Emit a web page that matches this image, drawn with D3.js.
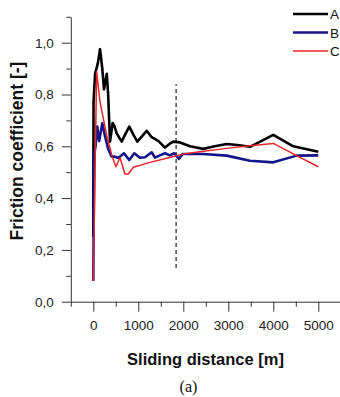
<!DOCTYPE html>
<html>
<head>
<meta charset="utf-8">
<script src="https://cdn.jsdelivr.net/npm/d3@7"></script>
<style>
  html, body { margin: 0; padding: 0; background: #fff; }
  svg { display: block; }
</style>
</head>
<body>
<div id="chart"></div>
<script>
// friction coefficient vs sliding distance, three samples
const seriesNames = ['A', 'B', 'C'];
const seriesColors = ['#000000', '#14148a', '#e8262a'];
const seriesWidths = [2.6, 2.6, 1.5];

const distA = [0, 5, 40, 100, 150, 200, 238, 300, 330, 371, 430, 467, 520, 631, 720, 800, 890, 978, 1090, 1186, 1298, 1450, 1593, 1700, 1778, 1926, 2150, 2444, 2700, 2963, 3200, 3481, 4000, 4444, 5000];
const valA = [0.25, 0.77, 0.88, 0.92, 0.975, 0.9, 0.82, 0.88, 0.80, 0.618, 0.69, 0.68, 0.65, 0.618, 0.65, 0.676, 0.645, 0.618, 0.64, 0.66, 0.635, 0.62, 0.595, 0.61, 0.618, 0.615, 0.60, 0.59, 0.60, 0.609, 0.605, 0.598, 0.644, 0.60, 0.579];

const distB = [0, 20, 50, 89, 130, 200, 260, 330, 408, 480, 556, 682, 800, 911, 1037, 1150, 1296, 1370, 1480, 1593, 1700, 1800, 1904, 1985, 2444, 2963, 3481, 4000, 4518, 5000];
const valB = [0.08, 0.57, 0.60, 0.676, 0.62, 0.689, 0.64, 0.59, 0.56, 0.56, 0.555, 0.573, 0.547, 0.573, 0.556, 0.558, 0.577, 0.556, 0.565, 0.573, 0.565, 0.573, 0.551, 0.57, 0.57, 0.564, 0.544, 0.538, 0.564, 0.565];

const distC = [0, 74, 150, 300, 420, 504, 593, 704, 778, 889, 1259, 1630, 2000, 2370, 2963, 3481, 4000, 4518, 5000];
const valC = [0.08, 0.888, 0.77, 0.64, 0.56, 0.521, 0.556, 0.493, 0.493, 0.519, 0.538, 0.554, 0.570, 0.579, 0.592, 0.602, 0.611, 0.564, 0.521];

const xMajorTicks = [0, 1000, 2000, 3000, 4000, 5000];
const xMinorTicks = [-500, 500, 1500, 2500, 3500, 4500];
const yMajorTicks = [0, 0.2, 0.4, 0.6, 0.8, 1.0];
const yMinorTicks = [0.1, 0.3, 0.5, 0.7, 0.9, 1.1];

const markerX = 1840;
const markerY = [0.13, 0.84];

const W = 340, H = 397;
const svg = d3.select('#chart').append('svg')
  .attr('width', W)
  .attr('height', H);

const x = d3.scaleLinear().domain([-500, 5500]).range([70.8, 340.8]);
const y = d3.scaleLinear().domain([0, 1.1]).range([301.7, 16.8]);

const fmt = d => d3.format('.1f')(d).replace('.', ',');

// axes
const axisColor = '#333';
const gx = svg.append('g').attr('transform', `translate(0,${y(0)})`);
gx.call(d3.axisBottom(x).tickValues(xMajorTicks).tickSize(10).tickSizeOuter(0).tickPadding(9).tickFormat(d3.format('d')));
gx.append('g').call(d3.axisBottom(x).tickValues(xMinorTicks).tickSize(5).tickSizeOuter(0).tickFormat(''))
  .select('.domain').remove();

const gy = svg.append('g').attr('transform', `translate(${x(-500)},0)`);
gy.call(d3.axisLeft(y).tickValues(yMajorTicks).tickSize(9).tickSizeOuter(0).tickPadding(8).tickFormat(fmt));
gy.append('g').call(d3.axisLeft(y).tickValues(yMinorTicks).tickSize(4.5).tickSizeOuter(0).tickFormat(''))
  .select('.domain').remove();

svg.selectAll('.domain, .tick line').attr('stroke', axisColor).attr('stroke-width', 1);
svg.selectAll('.tick text')
  .attr('font-family', '"Liberation Sans", Arial, sans-serif')
  .attr('font-size', 13.5)
  .attr('fill', '#222');

// dashed marker
svg.append('line')
  .attr('x1', x(markerX)).attr('x2', x(markerX))
  .attr('y1', y(markerY[0])).attr('y2', y(markerY[1]))
  .attr('stroke', '#222')
  .attr('stroke-width', 1.2)
  .attr('stroke-dasharray', '4,3');

// series
const series = [
  distA.map((d, i) => ({ dist: d, mu: valA[i] })),
  distB.map((d, i) => ({ dist: d, mu: valB[i] })),
  distC.map((d, i) => ({ dist: d, mu: valC[i] }))
];

const line = d3.line()
  .x(d => x(d.dist))
  .y(d => y(d.mu));

series.forEach((s, i) => {
  svg.append('path')
    .datum(s)
    .attr('fill', 'none')
    .attr('stroke', seriesColors[i])
    .attr('stroke-width', seriesWidths[i])
    .attr('stroke-linejoin', 'round')
    .attr('d', line);
});

// legend
const legend = svg.append('g');
seriesNames.forEach((n, i) => {
  const ly = 14 + i * 18.5;
  legend.append('line')
    .attr('x1', 293).attr('x2', 328)
    .attr('y1', ly).attr('y2', ly)
    .attr('stroke', seriesColors[i])
    .attr('stroke-width', seriesWidths[i]);
  legend.append('text')
    .attr('x', 330).attr('y', ly + 5)
    .attr('font-family', '"Liberation Sans", Arial, sans-serif')
    .attr('font-size', 13.5)
    .attr('fill', '#111')
    .text(n);
});

// axis titles
svg.append('text')
  .attr('x', 205.5).attr('y', 365)
  .attr('text-anchor', 'middle')
  .attr('font-family', '"Liberation Sans", Arial, sans-serif')
  .attr('font-weight', 'bold')
  .attr('font-size', 16.5)
  .attr('fill', '#111')
  .text('Sliding distance [m]');

svg.append('text')
  .attr('transform', 'translate(23,151) rotate(-90)')
  .attr('text-anchor', 'middle')
  .attr('font-family', '"Liberation Sans", Arial, sans-serif')
  .attr('font-weight', 'bold')
  .attr('font-size', 17.5)
  .attr('fill', '#111')
  .text('Friction coefficient [-]');

svg.append('text')
  .attr('x', 188.5).attr('y', 392)
  .attr('text-anchor', 'middle')
  .attr('font-family', '"Liberation Serif", "Times New Roman", serif')
  .attr('font-size', 16)
  .attr('fill', '#111')
  .text('(a)');
</script>
</body>
</html>
